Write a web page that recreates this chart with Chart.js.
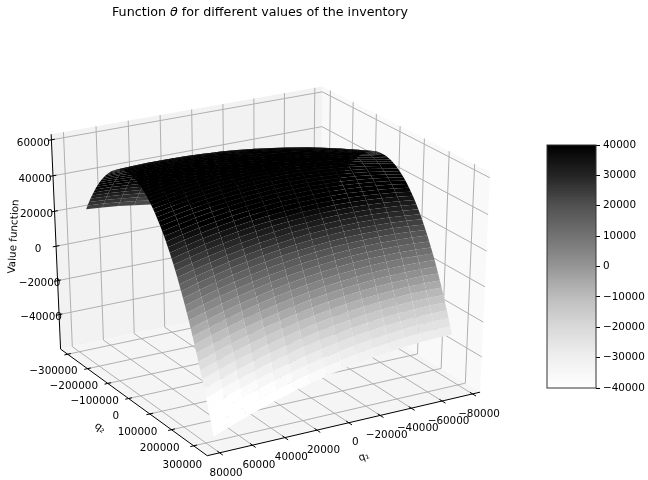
<!DOCTYPE html>
<html>
<head>
<meta charset="utf-8">
<script src="https://cdn.jsdelivr.net/npm/chart.js@4"></script>
<style>
body { margin: 0; background: #fff; }
canvas { position: absolute; left: 0; top: 0; }
</style>
</head>
<body>
<canvas id="surface" width="648" height="480"></canvas>
<canvas id="colorbar" width="648" height="480"></canvas>
<script>
const q1Values = [-74500, -64500, -54500, -44500, -34500, -24500, -14500, -4500, 5500, 15500, 25500, 35500, 45500, 55500, 65500, 75500];
const q2Values = [-374500, -366500, -358500, -350500, -342500, -334500, -326500, -318500, -310500, -302500, -294500, -286500, -278500, -270500, -262500, -254500, -246500, -238500, -230500, -222500, -214500, -206500, -198500, -190500, -182500, -174500, -166500, -158500, -150500, -142500, -134500, -126500, -118500, -110500, -102500, -94500, -86500, -78500, -70500, -62500, -54500, -46500, -38500, -30500, -22500, -14500, -6500, 1500, 9500, 17500, 25500, 33500, 41500, 49500, 57500, 65500, 73500, 81500, 89500, 97500, 105500, 113500, 121500, 129500, 137500, 145500, 153500, 161500, 169500, 177500, 185500, 193500, 201500];
// one row per q2 value, one column per q1 value
const thetaValues = [
  [-12400, -8300, -4400, -800, 2600, 5700, 8600, 11300, 13700, 15800, 17700, 19400, 20800, 22000, 22900, 23600],
  [-8800, -4800, -1000, 2600, 6000, 9000, 11900, 14500, 16800, 18900, 20700, 22300, 23700, 24800, 25700, 26300],
  [-5300, -1300, 2400, 6000, 9200, 12200, 15000, 17500, 19800, 21800, 23600, 25200, 26400, 27500, 28300, 28900],
  [-2000, 2000, 5700, 9200, 12400, 15300, 18000, 20500, 22700, 24700, 26400, 27900, 29100, 30100, 30900, 31400],
  [1300, 5200, 8900, 12300, 15400, 18300, 20900, 23300, 25500, 27400, 29100, 30500, 31700, 32600, 33300, 33700],
  [4500, 8300, 11900, 15300, 18300, 21200, 23700, 26100, 28200, 30100, 31700, 33000, 34200, 35000, 35700, 36000],
  [7500, 11300, 14800, 18100, 21100, 23900, 26400, 28700, 30800, 32600, 34100, 35400, 36500, 37300, 37900, 38200],
  [10500, 14200, 17700, 20900, 23800, 26600, 29000, 31300, 33300, 35000, 36500, 37700, 38700, 39500, 40000, 40300],
  [13300, 17000, 20400, 23500, 26400, 29100, 31500, 33700, 35600, 37300, 38700, 39900, 40800, 41500, 42000, 42200],
  [16100, 19700, 23000, 26100, 28900, 31600, 33900, 36000, 37900, 39500, 40900, 42000, 42900, 43500, 43900, 44100],
  [18700, 22200, 25500, 28500, 31300, 33900, 36100, 38200, 40000, 41600, 42900, 44000, 44800, 45300, 45700, 45800],
  [21200, 24700, 27900, 30900, 33600, 36100, 38300, 40300, 42100, 43600, 44800, 45900, 46600, 47100, 47400, 47400],
  [23600, 27000, 30200, 33100, 35800, 38200, 40400, 42300, 44000, 45400, 46600, 47600, 48300, 48700, 48900, 48900],
  [25900, 29300, 32400, 35200, 37900, 40200, 42300, 44200, 45800, 47200, 48300, 49300, 49900, 50300, 50400, 50300],
  [28100, 31400, 34400, 37200, 39800, 42100, 44100, 45900, 47500, 48800, 49900, 50800, 51300, 51700, 51800, 51600],
  [30200, 33400, 36400, 39100, 41600, 43900, 45900, 47600, 49100, 50400, 51400, 52200, 52700, 53000, 53100, 52800],
  [32100, 35300, 38200, 40900, 43300, 45500, 47500, 49200, 50600, 51800, 52800, 53500, 54000, 54200, 54200, 53900],
  [34000, 37100, 40000, 42600, 45000, 47100, 49000, 50700, 52000, 53200, 54100, 54700, 55200, 55300, 55200, 54900],
  [35800, 38800, 41600, 44200, 46500, 48600, 50400, 52000, 53300, 54400, 55200, 55800, 56200, 56300, 56100, 55800],
  [37400, 40400, 43200, 45700, 47900, 50000, 51700, 53200, 54500, 55500, 56300, 56800, 57100, 57200, 57000, 56600],
  [38900, 41900, 44600, 47000, 49200, 51200, 52900, 54300, 55600, 56500, 57200, 57700, 57900, 57900, 57700, 57200],
  [40400, 43300, 45900, 48300, 50400, 52300, 54000, 55400, 56600, 57400, 58100, 58500, 58700, 58600, 58300, 57700],
  [41700, 44500, 47100, 49400, 51500, 53300, 54900, 56300, 57400, 58200, 58800, 59200, 59300, 59100, 58800, 58100],
  [42900, 45700, 48200, 50500, 52500, 54300, 55800, 57100, 58100, 58900, 59400, 59800, 59800, 59600, 59200, 58500],
  [44000, 46700, 49200, 51400, 53300, 55100, 56500, 57800, 58700, 59500, 59900, 60200, 60200, 59900, 59400, 58700],
  [45000, 47700, 50100, 52200, 54100, 55800, 57200, 58400, 59300, 60000, 60400, 60600, 60500, 60200, 59600, 58800],
  [45900, 48500, 50800, 52900, 54800, 56400, 57700, 58800, 59700, 60300, 60700, 60800, 60700, 60300, 59700, 58800],
  [46700, 49200, 51500, 53500, 55400, 56900, 58200, 59200, 60000, 60600, 60900, 61000, 60800, 60300, 59700, 58700],
  [47400, 49800, 52100, 54000, 55800, 57200, 58500, 59500, 60200, 60700, 60900, 61000, 60700, 60200, 59500, 58500],
  [48000, 50300, 52500, 54400, 56100, 57500, 58700, 59600, 60300, 60800, 60900, 60900, 60600, 60000, 59300, 58200],
  [48400, 50700, 52800, 54700, 56300, 57700, 58800, 59600, 60300, 60700, 60800, 60700, 60300, 59700, 58900, 57800],
  [48800, 51000, 53100, 54900, 56400, 57800, 58800, 59600, 60200, 60500, 60600, 60400, 60000, 59300, 58400, 57300],
  [49000, 51200, 53200, 54900, 56400, 57700, 58700, 59400, 59900, 60200, 60200, 60000, 59500, 58800, 57800, 56600],
  [49100, 51300, 53200, 54900, 56300, 57500, 58500, 59200, 59600, 59800, 59800, 59500, 58900, 58200, 57100, 55900],
  [49100, 51300, 53100, 54700, 56100, 57200, 58100, 58800, 59100, 59300, 59200, 58800, 58200, 57400, 56300, 55000],
  [49100, 51200, 52900, 54500, 55800, 56900, 57700, 58300, 58600, 58700, 58500, 58100, 57400, 56600, 55400, 54000],
  [48900, 50900, 52600, 54100, 55400, 56400, 57100, 57700, 57900, 58000, 57700, 57300, 56500, 55600, 54400, 52900],
  [48600, 50600, 52200, 53700, 54900, 55800, 56500, 57000, 57200, 57200, 56800, 56400, 55500, 54600, 53300, 51800],
  [48200, 50100, 51700, 53100, 54200, 55100, 55700, 56100, 56300, 56200, 55800, 55300, 54400, 53400, 52000, 50500],
  [47700, 49500, 51100, 52400, 53500, 54300, 54900, 55200, 55300, 55200, 54700, 54100, 53200, 52100, 50700, 49100],
  [47000, 48800, 50300, 51600, 52600, 53400, 53900, 54200, 54200, 54000, 53500, 52800, 51900, 50700, 49200, 47600],
  [46300, 48000, 49500, 50700, 51700, 52400, 52800, 53100, 53000, 52800, 52200, 51500, 50500, 49200, 47700, 46000],
  [45500, 47100, 48500, 49700, 50600, 51200, 51600, 51800, 51700, 51400, 50800, 50000, 48900, 47600, 46000, 44200],
  [44600, 46100, 47500, 48600, 49400, 50000, 50300, 50500, 50300, 49900, 49300, 48400, 47300, 45900, 44300, 42400],
  [43500, 45000, 46300, 47300, 48100, 48600, 48900, 49000, 48800, 48300, 47600, 46700, 45500, 44100, 42400, 40500],
  [42400, 43800, 45000, 46000, 46700, 47200, 47400, 47400, 47200, 46600, 45900, 44900, 43600, 42200, 40400, 38500],
  [41100, 42500, 43600, 44500, 45200, 45600, 45800, 45700, 45400, 44800, 44000, 42900, 41600, 40100, 38300, 36300],
  [39700, 41100, 42100, 43000, 43600, 44000, 44100, 43900, 43600, 42900, 42100, 40900, 39600, 38000, 36100, 34000],
  [38200, 39500, 40500, 41300, 41900, 42200, 42200, 42000, 41600, 40900, 40000, 38800, 37400, 35700, 33800, 31600],
  [36600, 37900, 38800, 39600, 40100, 40300, 40300, 40000, 39500, 38800, 37800, 36600, 35100, 33400, 31400, 29200],
  [34900, 36100, 37000, 37700, 38100, 38300, 38200, 37900, 37300, 36500, 35500, 34200, 32600, 30900, 28800, 26600],
  [33100, 34200, 35100, 35700, 36100, 36200, 36100, 35700, 35100, 34200, 33100, 31800, 30100, 28300, 26200, 23900],
  [31200, 32200, 33000, 33600, 33900, 34000, 33800, 33300, 32700, 31700, 30600, 29200, 27500, 25600, 23500, 21100],
  [29200, 30100, 30900, 31400, 31700, 31700, 31400, 30900, 30200, 29200, 28000, 26500, 24800, 22800, 20600, 18200],
  [27000, 27900, 28600, 29100, 29300, 29200, 28900, 28400, 27600, 26500, 25200, 23700, 21900, 19900, 17600, 15100],
  [24800, 25600, 26300, 26700, 26800, 26700, 26300, 25700, 24900, 23800, 22400, 20800, 19000, 16900, 14600, 12000],
  [22400, 23200, 23800, 24100, 24200, 24000, 23600, 22900, 22000, 20900, 19500, 17800, 15900, 13800, 11400, 8800],
  [20000, 20700, 21200, 21500, 21500, 21300, 20800, 20100, 19100, 17900, 16500, 14700, 12800, 10600, 8100, 5500],
  [17400, 18100, 18500, 18700, 18700, 18400, 17900, 17100, 16100, 14800, 13300, 11500, 9500, 7200, 4700, 2000],
  [14700, 15400, 15800, 15900, 15800, 15500, 14900, 14000, 13000, 11600, 10000, 8200, 6100, 3800, 1200, -1600],
  [11900, 12500, 12900, 12900, 12800, 12400, 11700, 10800, 9700, 8300, 6600, 4700, 2600, 200, -2400, -5300],
  [9100, 9600, 9900, 9900, 9700, 9200, 8500, 7500, 6300, 4900, 3200, 1200, -1000, -3500, -6100, -9100],
  [6100, 6500, 6700, 6700, 6400, 5900, 5100, 4100, 2800, 1300, -400, -2400, -4700, -7200, -9900, -12900],
  [3000, 3400, 3500, 3400, 3100, 2500, 1700, 600, -800, -2400, -4200, -6200, -8500, -11100, -13900, -16900],
  [-300, 100, 200, 0, -400, -1000, -1900, -3100, -4400, -6100, -8000, -10100, -12400, -15000, -17900, -21000],
  [-3600, -3300, -3300, -3500, -4000, -4700, -5600, -6800, -8200, -10000, -11900, -14100, -16500, -19100, -22100, -25200],
  [-7000, -6800, -6800, -7100, -7600, -8400, -9400, -10600, -12100, -13900, -15900, -18100, -20600, -23300, -26300, -29500],
  [-10600, -10400, -10500, -10800, -11400, -12200, -13300, -14600, -16200, -18000, -20000, -22300, -24900, -27700, -30700, -34000],
  [-14200, -14100, -14200, -14600, -15300, -16100, -17300, -18700, -20300, -22100, -24200, -26600, -29200, -32100, -35100, -38500],
  [-18000, -17900, -18100, -18600, -19300, -20200, -21400, -22900, -24500, -26400, -28600, -31000, -33700, -36600, -39700, -43200],
  [-21800, -21800, -22100, -22600, -23400, -24400, -25600, -27100, -28800, -30800, -33000, -35500, -38200, -41200, -44400, -47900],
  [-25800, -25900, -26200, -26800, -27600, -28700, -30000, -31500, -33300, -35300, -37600, -40200, -42900, -46000, -49200, -52800],
  [-29900, -30000, -30400, -31000, -31900, -33000, -34400, -36000, -37800, -39900, -42300, -44900, -47700, -50800, -54100, -57700]
];
const q1Ticks = [-80000, -60000, -40000, -20000, 0, 20000, 40000, 60000, 80000];
const q2Ticks = [-400000, -300000, -200000, -100000, 0, 100000, 200000];
const q2Labels = [-300000, -200000, -100000, 0, 100000, 200000, 300000];
const zTicks = [-40000, -20000, 0, 20000, 40000, 60000];
const colorbarTicks = [-40000, -30000, -20000, -10000, 0, 10000, 20000, 30000, 40000];

const q1Lim = [-85000, 87500];
const q2Lim = [-436000, 260000];
const zLim = [-60600, 63100];

// Greys colormap stops
const greys = [255, 240, 217, 189, 150, 115, 82, 37, 0];
function greyFor(v) {
  let t = (v + 40000) / 80000;
  t = Math.max(0, Math.min(1, t)) * 8;
  const i = Math.min(7, Math.floor(t));
  const g = Math.round(greys[i] + (greys[i + 1] - greys[i]) * (t - i));
  return `rgb(${g},${g},${g})`;
}

// same view as mplot3d: azim 60, elev 27, dist 10
const az = 60 * Math.PI / 180, el = 27 * Math.PI / 180;
const n = [Math.cos(az) * Math.cos(el), Math.sin(az) * Math.cos(el), Math.sin(el)];
const u = [-Math.sin(az), Math.cos(az), 0];
const v = [-Math.sin(el) * Math.cos(az), -Math.sin(el) * Math.sin(az), Math.cos(el)];
function project(q1, q2, z) {
  const c = [
    (q1 - q1Lim[0]) / (q1Lim[1] - q1Lim[0]) - 0.5,
    (q2 - q2Lim[0]) / (q2Lim[1] - q2Lim[0]) - 0.5,
    (z - zLim[0]) / (zLim[1] - zLim[0]) - 0.5
  ];
  const nc = n[0] * c[0] + n[1] * c[1] + n[2] * c[2];
  const d = 10 - nc;
  return {
    x: (u[0] * c[0] + u[1] * c[1]) / d,
    y: (v[0] * c[0] + v[1] * c[1] + v[2] * c[2]) / d,
    depth: nc
  };
}

const datasets = [];
function addPolygon(points, color) {
  datasets.push({ data: points, showLine: true, fill: 'shape', backgroundColor: color, borderWidth: 0, pointRadius: 0 });
}
function addLine(a, b, color, width) {
  datasets.push({ data: [a, b], showLine: true, fill: false, borderColor: color, borderWidth: width, pointRadius: 0 });
}

const [x0, x1] = q1Lim, [y0, y1] = q2Lim, [z0, z1] = zLim;

// panes
addPolygon([project(x1, y0, z0), project(x0, y0, z0), project(x0, y0, z1), project(x1, y0, z1)], '#f2f2f2');
addPolygon([project(x0, y0, z0), project(x0, y1, z0), project(x0, y1, z1), project(x0, y0, z1)], '#f9f9f9');
addPolygon([project(x0, y0, z0), project(x1, y0, z0), project(x1, y1, z0), project(x0, y1, z0)], '#f5f5f5');

// grid
q1Ticks.forEach(t => {
  addLine(project(t, y1, z0), project(t, y0, z0), '#b0b0b0', 1);
  addLine(project(t, y0, z0), project(t, y0, z1), '#b0b0b0', 1);
});
q2Ticks.forEach(t => {
  addLine(project(x1, t, z0), project(x0, t, z0), '#b0b0b0', 1);
  addLine(project(x0, t, z0), project(x0, t, z1), '#b0b0b0', 1);
});
zTicks.forEach(t => {
  addLine(project(x1, y0, t), project(x0, y0, t), '#b0b0b0', 1);
  addLine(project(x0, y0, t), project(x0, y1, t), '#b0b0b0', 1);
});

// axis lines and tick marks
addLine(project(x1, y1, z0), project(x0, y1, z0), '#000', 1);
addLine(project(x1, y0, z0), project(x1, y1, z0), '#000', 1);
addLine(project(x1, y0, z0), project(x1, y0, z1), '#000', 1);
const rx = x1 - x0, ry = y1 - y0;
q1Ticks.forEach(t => addLine(project(t, y1 - 0.015 * ry, z0), project(t, y1 + 0.02 * ry, z0), '#000', 1));
q2Ticks.forEach(t => addLine(project(x1 - 0.012 * rx, t, z0), project(x1 + 0.012 * rx, t, z0), '#000', 1));
zTicks.forEach(t => addLine(project(x1 - 0.012 * rx, y0, t), project(x1 + 0.012 * rx, y0, t), '#000', 1));

// surface cells, far ones first
const cells = [];
for (let j = 0; j < q2Values.length - 1; j++) {
  for (let i = 0; i < q1Values.length - 1; i++) {
    const zs = [thetaValues[j][i], thetaValues[j][i + 1], thetaValues[j + 1][i + 1], thetaValues[j + 1][i]];
    const pts = [
      project(q1Values[i], q2Values[j], zs[0]),
      project(q1Values[i + 1], q2Values[j], zs[1]),
      project(q1Values[i + 1], q2Values[j + 1], zs[2]),
      project(q1Values[i], q2Values[j + 1], zs[3])
    ];
    cells.push({
      pts,
      depth: pts.reduce((s, p) => s + p.depth, 0) / 4,
      color: greyFor(zs.reduce((s, z) => s + z, 0) / 4)
    });
  }
}
cells.sort((a, b) => a.depth - b.depth);
cells.forEach(c => addPolygon(c.pts, c.color));

// chart.js paints the first dataset last
datasets.reverse();

const minus = s => String(s).replace('-', '\u2212');

const axisText = {
  id: 'axisText',
  afterDraw(chart) {
    const { ctx, scales } = chart;
    const px = p => [scales.x.getPixelForValue(p.x), scales.y.getPixelForValue(p.y)];
    ctx.save();
    ctx.fillStyle = '#000';
    ctx.textAlign = 'center';
    ctx.textBaseline = 'middle';
    ctx.font = '10.4px "DejaVu Sans"';
    q1Ticks.forEach(t => {
      const [a, b] = px(project(t, y1, z0));
      ctx.fillText(minus(t), a + 6.5, b + 20);
    });
    q2Labels.forEach(t => {
      const [a, b] = px(project(x1, t, z0));
      ctx.fillText(minus(t), a - 34, b + 2.5);
    });
    zTicks.forEach(t => {
      const [a, b] = px(project(x1, y0, t));
      ctx.fillText(minus(t), a - 18, b + 3);
    });
    const rotated = (text, a, b, angle) => {
      ctx.save();
      ctx.translate(a, b);
      ctx.rotate(angle);
      ctx.fillText(text, 0, 0);
      ctx.restore();
    };
    rotated('Value function', 14, 236.5, -87 * Math.PI / 180);
    rotated('q\u2082', 100, 428, 37 * Math.PI / 180);
    rotated('q\u2081', 364, 457, -19 * Math.PI / 180);

    // title, theta is italic
    ctx.textAlign = 'left';
    ctx.font = '12.7px "DejaVu Sans"';
    let tx = 112;
    ctx.fillText('Function ', tx, 13);
    tx += ctx.measureText('Function ').width;
    ctx.font = 'italic 12.7px "DejaVu Sans"';
    ctx.fillText('\u03b8', tx, 13);
    tx += ctx.measureText('\u03b8').width;
    ctx.font = '12.7px "DejaVu Sans"';
    ctx.fillText(' for different values of the inventory', tx, 13);
    ctx.restore();
  }
};

new Chart(document.getElementById('surface'), {
  type: 'scatter',
  data: { datasets },
  options: {
    responsive: false,
    animation: false,
    plugins: { legend: { display: false }, tooltip: { enabled: false } },
    scales: {
      x: { type: 'linear', display: false, min: -0.08503, max: 0.12134 },
      y: { type: 'linear', display: false, min: -0.08852, max: 0.1082 }
    }
  },
  plugins: [axisText]
});

// colorbar, each band runs up to the top so no seams show between bands
const barSegments = [];
for (let lo = 39500; lo >= -40000; lo -= 500) {
  barSegments.push({ data: [[lo, 40000]], backgroundColor: greyFor(lo + 250), borderWidth: 0, barPercentage: 1, categoryPercentage: 1, grouped: false });
}
const barFrame = {
  id: 'barFrame',
  afterDraw(chart) {
    const { ctx, chartArea: a } = chart;
    ctx.save();
    ctx.strokeStyle = '#333';
    ctx.lineWidth = 1;
    ctx.strokeRect(a.left, a.top, a.right - a.left, a.bottom - a.top);
    ctx.restore();
  }
};
new Chart(document.getElementById('colorbar'), {
  type: 'bar',
  data: { labels: [''], datasets: barSegments },
  options: {
    responsive: false,
    animation: false,
    layout: { padding: { left: 547, top: 145, bottom: 92, right: 0 } },
    plugins: { legend: { display: false }, tooltip: { enabled: false } },
    scales: {
      x: { display: false },
      y: {
        position: 'right',
        min: -40000,
        max: 40000,
        afterFit: s => { s.width = 52; },
        afterBuildTicks: s => { s.ticks = colorbarTicks.map(value => ({ value })); },
        border: { display: false },
        grid: { drawOnChartArea: false, tickLength: 4, tickColor: '#000', tickWidth: 1 },
        ticks: { color: '#000', padding: 3, font: { family: 'DejaVu Sans', size: 10.4 }, callback: t => minus(t) }
      }
    }
  },
  plugins: [barFrame]
});
</script>
</body>
</html>
